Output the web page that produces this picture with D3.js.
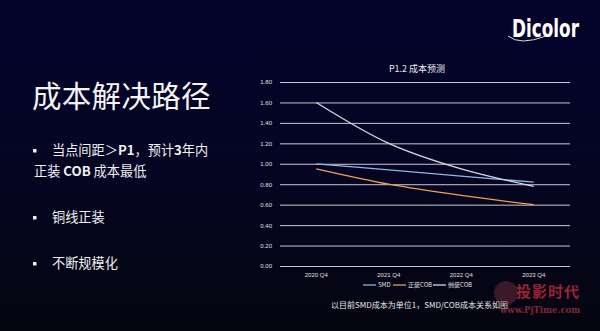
<!DOCTYPE html>
<html><head><meta charset="utf-8">
<script src="https://cdn.jsdelivr.net/npm/d3@7"></script>
<style>html,body{margin:0;padding:0;background:#03031f;}svg{display:block;}</style>
</head><body>
<svg id="c" width="600" height="331"></svg>
<script>
const categories = ["2020 Q4", "2021 Q4", "2022 Q4", "2023 Q4"];
const seriesNames = ["SMD", "正装COB", "倒装COB"];
const smd = [1.00, 0.94, 0.88, 0.82];
const cobFront = [0.95, 0.80, 0.69, 0.60];
const cobFlip = [1.60, 1.20, 0.95, 0.78];
const yTicks = [0, 0.2, 0.4, 0.6, 0.8, 1.0, 1.2, 1.4, 1.6, 1.8];
const chartTitle = "P1.2 成本预测";
const footnote = "以目前SMD成本为单位1，SMD/COB成本关系如图";
const colors = ["#8cb8e6", "#f0a050", "#d8d8e0"];

const svg = d3.select("#c");
const defs = svg.append("defs");
const g = defs.append("linearGradient").attr("id","bg").attr("x1",0).attr("y1",0).attr("x2",0).attr("y2",1);
g.append("stop").attr("offset","0%").attr("stop-color","#03032c");
g.append("stop").attr("offset","55%").attr("stop-color","#050522");
g.append("stop").attr("offset","100%").attr("stop-color","#050510");
svg.append("rect").attr("width",600).attr("height",331).attr("fill","url(#bg)");

// Left text
const font = "'Noto Sans CJK SC', 'Noto Sans', sans-serif";
svg.append("text").attr("x",32).attr("y",107).attr("fill","#f4f4f4")
  .attr("font-family","'Noto Sans CJK SC', serif").attr("font-size",29.5).attr("font-weight",400)
  .attr("letter-spacing",0.3).text("成本解决路径");
function bullet(y){ svg.append("rect").attr("x",33).attr("y",y-6).attr("width",3.5).attr("height",3.5).attr("fill","#f0f0f0"); }
const t1 = svg.append("text").attr("x",52).attr("y",155).attr("fill","#f0f0f0").attr("font-family",font).attr("font-size",13.2);
t1.append("tspan").text("当点间距＞");
t1.append("tspan").attr("font-weight","bold").text("P1");
t1.append("tspan").text("，预计");
t1.append("tspan").attr("font-weight","bold").text("3");
t1.append("tspan").text("年内");
bullet(155);
const t2 = svg.append("text").attr("x",34).attr("y",176).attr("fill","#f0f0f0").attr("font-family",font).attr("font-size",13.2);
t2.append("tspan").text("正装 ");
t2.append("tspan").attr("font-weight","bold").text("COB");
t2.append("tspan").text(" 成本最低");
bullet(222);
svg.append("text").attr("x",52).attr("y",222).attr("fill","#f0f0f0").attr("font-family",font).attr("font-size",13.2).text("铜线正装");
bullet(268);
svg.append("text").attr("x",52).attr("y",268).attr("fill","#f0f0f0").attr("font-family",font).attr("font-size",13.2).text("不断规模化");

// Logo
svg.append("g").attr("transform","translate(512,37) scale(1,1.35)")
  .append("text").attr("x",0).attr("y",0).attr("fill","#ffffff")
  .attr("font-family","'DejaVu Sans Condensed','DejaVu Sans',sans-serif").attr("font-weight","bold")
  .attr("font-size",18).attr("textLength",67).attr("lengthAdjust","spacingAndGlyphs").text("Dicolor");
svg.append("path").attr("d","M508,36 Q520,46 546,36").attr("stroke","#dcdcdc").attr("stroke-width",1).attr("fill","none");

// Chart
const x = d3.scaleBand().domain(categories).range([280,570]);
const y = d3.scaleLinear().domain([0,1.8]).range([266,82]);

svg.append("text").attr("x",417).attr("y",72).attr("text-anchor","middle").attr("fill","#e8e8e8")
  .attr("font-family",font).attr("font-size",9).text(chartTitle);

const yAxis = svg.append("g").attr("transform","translate(280,0)")
  .call(d3.axisLeft(y).tickValues(yTicks).tickFormat(d3.format(".2f")).tickSize(-290).tickPadding(8));
yAxis.select(".domain").remove();
yAxis.selectAll(".tick line").attr("stroke","#c8c8d0").attr("stroke-width",1);
yAxis.selectAll(".tick text").attr("fill","#e0e0e0").attr("font-family","'Liberation Sans',Arial,sans-serif").attr("font-size",6);

const xAxis = svg.append("g").attr("transform","translate(0,266)")
  .call(d3.axisBottom(x).tickSize(0).tickPadding(7));
xAxis.select(".domain").remove();
xAxis.selectAll(".tick text").attr("fill","#e0e0e0").attr("font-family","'Liberation Sans',Arial,sans-serif").attr("font-size",6);

const series = [smd, cobFront, cobFlip];
const line = d3.line().x((d,i)=>x(categories[i])+x.bandwidth()/2).y(d=>y(d)).curve(d3.curveCatmullRom.alpha(0.5));
series.forEach((s,k)=>{
  svg.append("path").datum(s).attr("d",line).attr("fill","none").attr("stroke",colors[k]).attr("stroke-width",1.3);
});

// Legend
const legX = [363, 393, 433];
seriesNames.forEach((n,k)=>{
  svg.append("line").attr("x1",legX[k]).attr("x2",legX[k]+13).attr("y1",285).attr("y2",285).attr("stroke",colors[k]).attr("stroke-width",1.3);
  svg.append("text").attr("x",legX[k]+15).attr("y",287.2).attr("fill","#e0e0e0").attr("font-family",font).attr("font-size",6).text(n);
});

svg.append("text").attr("x",331).attr("y",308).attr("fill","#e8e8e8").attr("font-family",font).attr("font-size",8).text(footnote);

// Watermark
svg.append("circle").attr("cx",506).attr("cy",293).attr("r",12).attr("fill","#a04050").attr("opacity",0.35);
svg.append("text").attr("x",516).attr("y",297).attr("fill","#b8283a").attr("opacity",0.85).attr("font-family",font).attr("font-weight","bold").attr("font-size",15).attr("letter-spacing",1).text("投影时代");
svg.append("text").attr("x",500).attr("y",313).attr("fill","#a03040").attr("opacity",0.8).attr("font-family","'DejaVu Serif',serif").attr("font-weight","bold").attr("font-size",8.5).text("www.PjTime.com");
</script>
</body></html>
